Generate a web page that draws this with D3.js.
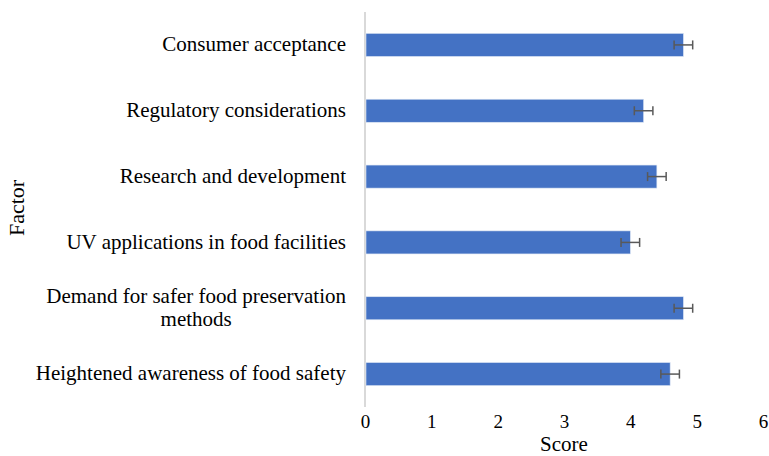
<!DOCTYPE html>
<html><head><meta charset="utf-8">
<script src="https://cdn.jsdelivr.net/npm/d3@7"></script>
<style>body{margin:0;background:#fff}svg{display:block}</style>
</head><body>
<svg id="c" width="769" height="456"></svg>
<script>
const categories = ["Consumer acceptance","Regulatory considerations","Research and development","UV applications in food facilities","Demand for safer food preservation methods","Heightened awareness of food safety"];
const labelLines = [["Consumer acceptance"],["Regulatory considerations"],["Research and development"],["UV applications in food facilities"],["Demand for safer food preservation","methods"],["Heightened awareness of food safety"]];
const scores = [4.8, 4.2, 4.4, 4.0, 4.8, 4.6];
const errors = [0.14, 0.14, 0.14, 0.14, 0.14, 0.14];
const xTicks = [0,1,2,3,4,5,6];

const font = "'Palatino Linotype','Book Antiqua',Palatino,'Liberation Serif',serif";
const svg = d3.select("#c");
const x = d3.scaleLinear().domain([0,6]).range([365,763]);
const y = d3.scaleBand().domain(categories).range([12,407]).paddingInner(0.65).paddingOuter(0.325);

// axis line
svg.append("line").attr("x1",x(0)).attr("x2",x(0)).attr("y1",12).attr("y2",407)
  .attr("stroke","#d9d9d9").attr("stroke-width",2);

// bars
svg.selectAll("rect.bar").data(categories).enter().append("rect")
  .attr("x",x(0)+1).attr("y",d=>y(d))
  .attr("width",(d,i)=>x(scores[i])-x(0)-1).attr("height",y.bandwidth())
  .attr("fill","#4472C4").attr("stroke","#dbe4f3").attr("stroke-width",0.6);

// error bars
const eg = svg.selectAll("g.err").data(categories).enter().append("g").attr("stroke","#595959").attr("stroke-width",1.5);
eg.append("line").attr("x1",(d,i)=>x(scores[i]-errors[i])).attr("x2",(d,i)=>x(scores[i]+errors[i]))
  .attr("y1",d=>y(d)+y.bandwidth()/2).attr("y2",d=>y(d)+y.bandwidth()/2);
eg.append("line").attr("x1",(d,i)=>x(scores[i]-errors[i])).attr("x2",(d,i)=>x(scores[i]-errors[i]))
  .attr("y1",d=>y(d)+y.bandwidth()/2-4.5).attr("y2",d=>y(d)+y.bandwidth()/2+4.5);
eg.append("line").attr("x1",(d,i)=>x(scores[i]+errors[i])).attr("x2",(d,i)=>x(scores[i]+errors[i]))
  .attr("y1",d=>y(d)+y.bandwidth()/2-4.5).attr("y2",d=>y(d)+y.bandwidth()/2+4.5);

// x axis tick labels
const xAxis = d3.axisBottom(x).tickValues(xTicks).tickSize(0).tickPadding(0).tickFormat(d3.format("d"));
const gx = svg.append("g").attr("transform","translate(0,407)").call(xAxis);
gx.select(".domain").remove();
gx.selectAll("text").attr("y",21.3).attr("dy",0).attr("font-family",font).attr("font-size",19).attr("fill","#000");

// category labels
const labelRight = 346;
labelLines.forEach((lines,i)=>{
  const cy = y(categories[i]) + y.bandwidth()/2;
  const lh = 23.5;
  const t = svg.append("text").attr("font-family",font).attr("font-size",21).attr("fill","#000");
  const spans = lines.map((l,j)=>t.append("tspan").text(l));
  let w = 0;
  spans.forEach(s=>{w=Math.max(w,s.node().getComputedTextLength());});
  const cx = labelRight - w/2;
  spans.forEach((s,j)=>{
    s.attr("x",cx).attr("y",cy + (j-(lines.length-1)/2)*lh).attr("dy","0.3em");
  });
  t.attr("text-anchor","middle");
});

// axis titles
svg.append("text").attr("x",x(3)).attr("y",450.5).attr("text-anchor","middle")
  .attr("font-family",font).attr("font-size",21).text("Score");
svg.append("text").attr("transform","translate(24,208) rotate(-90)").attr("text-anchor","middle")
  .attr("font-family",font).attr("font-size",22).text("Factor");
</script>
</body></html>
